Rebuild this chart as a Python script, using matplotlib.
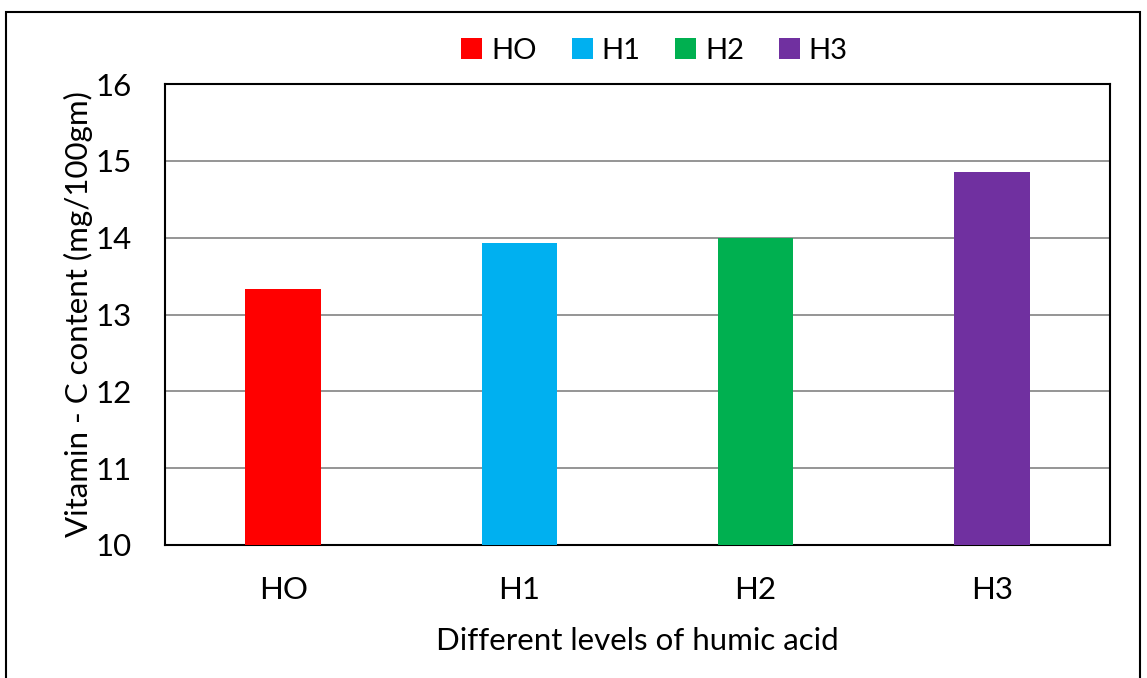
import matplotlib
matplotlib.use("Agg")
import matplotlib.pyplot as plt
from matplotlib.patches import Rectangle

categories = ["HO", "H1", "H2", "H3"]
values = [13.33, 13.93, 14.0, 14.86]
colors = ["#FF0000", "#00B0F0", "#00B050", "#7030A0"]

plt.rcParams['font.family'] = ['Lato', 'DejaVu Sans']

W, H = 1147, 678
fig = plt.figure(figsize=(W/100, H/100), dpi=100)
ax = fig.add_axes([165/W, 1-545/H, (1110-165)/W, (545-84)/H])

x = range(len(categories))
bars = ax.bar(x, values, width=0.32, color=colors, label=categories, zorder=3)
ax.set_ylim(10, 16)
ax.set_xlim(-0.5, 3.5)
ax.set_yticks(range(10, 17))
ax.set_xticks(list(x))
ax.set_xticklabels(categories)
ax.tick_params(axis='both', labelsize=22.5, length=0)
ax.tick_params(axis='x', pad=22)
ax.tick_params(axis='y', pad=24)
ax.grid(axis='y', color='#8C8C8C', linewidth=1.3, zorder=0)
for s in ax.spines.values():
    s.set_color('black')
    s.set_linewidth(1.5)
ax.set_xlabel("Different levels of humic acid", fontsize=22.5, labelpad=17)
ax.set_ylabel("Vitamin - C content (mg/100gm)", fontsize=22.5, labelpad=2)

ax.legend(handles=bars, labels=categories, loc='lower center', bbox_to_anchor=(0.518, 1.0),
          ncol=4, frameon=False, fontsize=21, handlelength=0.72, handleheight=0.72,
          handletextpad=0.3, columnspacing=1.2, borderaxespad=0.3)

fig.patches.append(Rectangle((6/W, -0.1), (1140-6)/W, 1.1 - 12/H, transform=fig.transFigure,
                             fill=False, edgecolor='black', linewidth=1.5))

fig.savefig("out.png", dpi=100)
